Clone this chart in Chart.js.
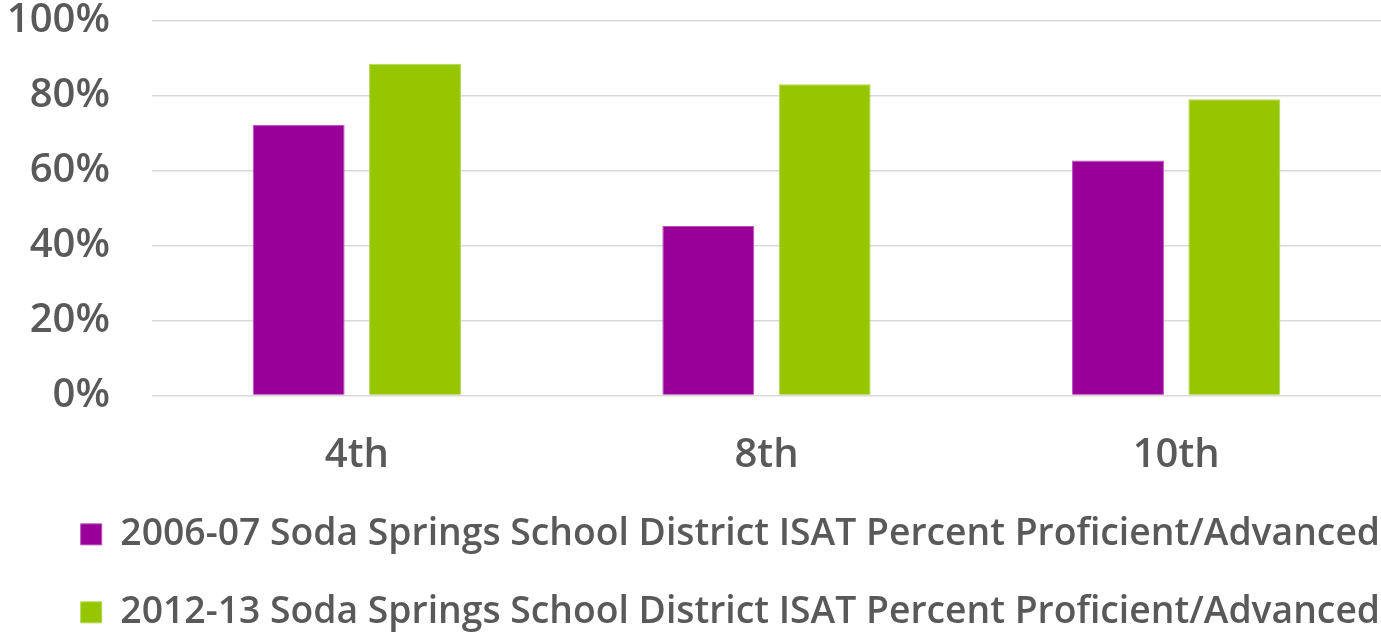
<!DOCTYPE html>
<html>
<head>
<meta charset="utf-8">
<script src="https://cdn.jsdelivr.net/npm/chart.js@4"></script>
<style>
  html, body { margin: 0; padding: 0; background: #fff; }
  #wrap { width: 1381px; height: 635px; position: relative; }
</style>
</head>
<body>
<div id="wrap"><canvas id="chart"></canvas></div>
<script>
const grades = ["4th", "8th", "10th"];
const seriesNames = [
  "2006-07 Soda Springs School District ISAT Percent Proficient/Advanced",
  "2012-13 Soda Springs School District ISAT Percent Proficient/Advanced"
];
const pct0607 = [72.2, 45.2, 62.7];
const pct1213 = [88.5, 83.0, 79.0];
const yTicks = [0, 20, 40, 60, 80, 100];

const textGrey = "#595959";
const fontFamily = "'Open Sans', 'DejaVu Sans', sans-serif";

// the legend block sits a bit right of the left edge in the original
const legendShift = {
  id: "legendShift",
  afterLayout(chart) {
    chart.legend.left += 40;
  },
};

new Chart(document.getElementById("chart"), {
  type: "bar",
  data: {
    labels: grades,
    datasets: [
      {
        label: seriesNames[0],
        data: pct0607,
        backgroundColor: "#990099",
        borderColor: "#b84db8",
        borderWidth: 1,
      },
      {
        label: seriesNames[1],
        data: pct1213,
        backgroundColor: "#96c600",
        borderColor: "#b4d84d",
        borderWidth: 1,
      },
    ],
  },
  options: {
    responsive: true,
    maintainAspectRatio: false,
    animation: false,
    layout: { padding: { bottom: -6 } },
    datasets: {
      bar: { categoryPercentage: 0.568, barPercentage: 0.79 },
    },
    scales: {
      x: {
        afterFit: (scale) => {
          scale.height = 79.5;
        },
        grid: { display: false, drawTicks: false },
        border: { display: false },
        ticks: {
          color: textGrey,
          padding: 40,
          font: { family: fontFamily, size: 40, weight: "600", lineHeight: 1 },
        },
      },
      y: {
        min: 0,
        max: 100,
        afterBuildTicks: (scale) => {
          scale.ticks = yTicks.map((v) => ({ value: v }));
        },
        afterFit: (scale) => {
          scale.width = 152;
          scale.paddingTop = 20.5;
          scale.paddingBottom = 20;
        },
        grid: { color: "#d9d9d9", lineWidth: 1.5, drawTicks: false },
        border: { display: false },
        ticks: {
          color: textGrey,
          padding: 42,
          font: { family: fontFamily, size: 40, weight: "600", lineHeight: 1 },
          callback: (v) => v + "%",
        },
      },
    },
    plugins: {
      tooltip: { enabled: false },
      legend: {
        position: "bottom",
        align: "start",
        labels: {
          color: textGrey,
          boxWidth: 21,
          boxHeight: 21,
          padding: 40.7,
          font: { family: fontFamily, size: 37.3, weight: "600" },
        },
      },
    },
  },
  plugins: [legendShift],
});
</script>
</body>
</html>
